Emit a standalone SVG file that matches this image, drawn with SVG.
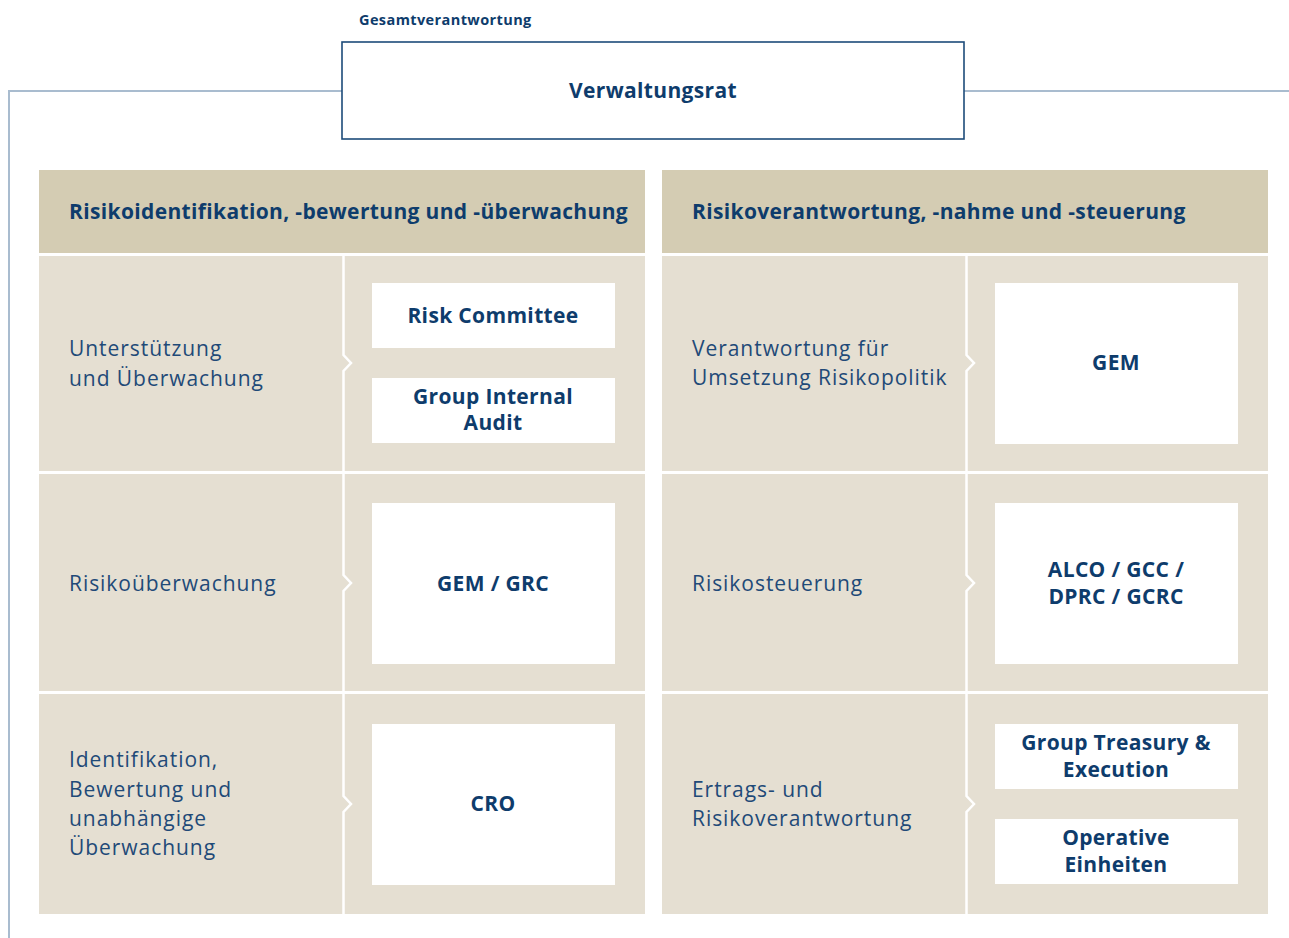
<svg xmlns="http://www.w3.org/2000/svg" width="1289" height="938" viewBox="0 0 1289 938">
<style>
.hd{fill:#d4ccb3}
.cl{fill:#e5dfd2}
.bx{fill:#ffffff}
.t{font-family:"Open Sans","Noto Sans",sans-serif;fill:#0e3c6c}
.b{font-weight:bold;letter-spacing:0.35px}
.r{font-weight:normal;fill:#1f4a78;letter-spacing:0.95px}
.c{text-anchor:middle}
.sep{fill:none;stroke:#ffffff;stroke-width:2.5}
.con{fill:none;stroke:#a9bccf;stroke-width:2}
</style>
<rect width="1289" height="938" fill="#ffffff"/>
<g id="connectors">
<path class="con" d="M342,91 H9 V938"/>
<path class="con" d="M964,91 H1289"/>
</g>
<text class="t b" x="359" y="25" font-size="14.5" style="letter-spacing:0.4px">Gesamtverantwortung</text>
<g id="verwaltungsrat">
<rect x="342" y="42" width="622" height="97" fill="#ffffff" stroke="#1d4b7a" stroke-width="1.6"/>
<text class="t b c" x="653" y="98" font-size="21">Verwaltungsrat</text>
</g>
<g id="left-panel">
<rect class="hd" x="39" y="170" width="606" height="83"/>
<text class="t b" x="69" y="219" font-size="21">Risikoidentifikation, -bewertung und -überwachung</text>
<rect class="cl" x="39" y="256" width="606" height="215"/>
<rect class="cl" x="39" y="474" width="606" height="217"/>
<rect class="cl" x="39" y="694" width="606" height="220"/>
<path class="sep" d="M343.5,256 V355 L351,363 L343.5,371 V471"/>
<path class="sep" d="M343.5,474 V575 L351,583 L343.5,591 V691"/>
<path class="sep" d="M343.5,694 V796 L351,804 L343.5,812 V914"/>
</g>
<g id="right-panel">
<rect class="hd" x="662" y="170" width="606" height="83"/>
<text class="t b" x="692" y="219" font-size="21">Risikoverantwortung, -nahme und -steuerung</text>
<rect class="cl" x="662" y="256" width="606" height="215"/>
<rect class="cl" x="662" y="474" width="606" height="217"/>
<rect class="cl" x="662" y="694" width="606" height="220"/>
<path class="sep" d="M966.5,256 V355 L974,363 L966.5,371 V471"/>
<path class="sep" d="M966.5,474 V575 L974,583 L966.5,591 V691"/>
<path class="sep" d="M966.5,694 V796 L974,804 L966.5,812 V914"/>
</g>
<g id="row1-left">
<text class="t r" font-size="21"><tspan x="69" y="356">Unterstützung</tspan><tspan x="69" y="386">und Überwachung</tspan></text>
</g>
<g id="risk-committee">
<rect class="bx" x="372" y="283" width="243" height="65"/>
<text class="t b c" x="493" y="323" font-size="21">Risk Committee</text>
</g>
<g id="group-internal-audit">
<rect class="bx" x="372" y="378" width="243" height="65"/>
<text class="t b c" font-size="21"><tspan x="493" y="404">Group Internal</tspan><tspan x="493" y="430">Audit</tspan></text>
</g>
<g id="row2-left">
<text class="t r" x="69" y="591" font-size="21">Risikoüberwachung</text>
</g>
<g id="gem-grc">
<rect class="bx" x="372" y="503" width="243" height="161"/>
<text class="t b c" x="493" y="591" font-size="21">GEM / GRC</text>
</g>
<g id="row3-left">
<text class="t r" font-size="21"><tspan x="69" y="767">Identifikation,</tspan><tspan x="69" y="797">Bewertung und</tspan><tspan x="69" y="826">unabhängige</tspan><tspan x="69" y="855">Überwachung</tspan></text>
</g>
<g id="cro">
<rect class="bx" x="372" y="724" width="243" height="161"/>
<text class="t b c" x="493" y="811" font-size="21">CRO</text>
</g>
<g id="row1-right">
<text class="t r" font-size="21"><tspan x="692" y="356">Verantwortung für</tspan><tspan x="692" y="385">Umsetzung Risikopolitik</tspan></text>
</g>
<g id="gem">
<rect class="bx" x="995" y="283" width="243" height="161"/>
<text class="t b c" x="1116" y="370" font-size="21">GEM</text>
</g>
<g id="row2-right">
<text class="t r" x="692" y="591" font-size="21">Risikosteuerung</text>
</g>
<g id="alco">
<rect class="bx" x="995" y="503" width="243" height="161"/>
<text class="t b c" font-size="21"><tspan x="1116" y="577">ALCO / GCC /</tspan><tspan x="1116" y="604">DPRC / GCRC</tspan></text>
</g>
<g id="row3-right">
<text class="t r" font-size="21"><tspan x="692" y="797">Ertrags- und</tspan><tspan x="692" y="826">Risikoverantwortung</tspan></text>
</g>
<g id="group-treasury">
<rect class="bx" x="995" y="724" width="243" height="65"/>
<text class="t b c" font-size="21"><tspan x="1116" y="750">Group Treasury &amp;</tspan><tspan x="1116" y="777">Execution</tspan></text>
</g>
<g id="operative">
<rect class="bx" x="995" y="819" width="243" height="65"/>
<text class="t b c" font-size="21"><tspan x="1116" y="845">Operative</tspan><tspan x="1116" y="872">Einheiten</tspan></text>
</g>
</svg>
